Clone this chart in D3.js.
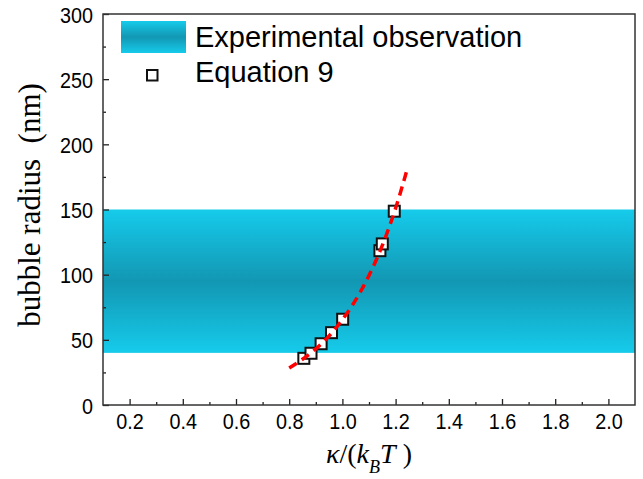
<!DOCTYPE html>
<html><head><meta charset="utf-8">
<script src="https://cdn.jsdelivr.net/npm/d3@7"></script>
<style>body{margin:0;background:#fff}</style>
</head><body>
<script>
const bandRange = [40, 150];
const eqX = [0.855, 0.882, 0.920, 0.959, 1.001, 1.141, 1.150, 1.195];
const eqY = [35.8, 39.7, 47.0, 55.5, 65.8, 118.4, 123.6, 148.7];
const fitX = [0.80, 0.85, 0.90, 0.95, 1.00, 1.05, 1.10, 1.15, 1.20, 1.246];
const fitY = [28.4, 35.1, 43.1, 53.0, 65.5, 80.6, 99.4, 122.4, 151.0, 182.7];
const xTicks = [0.2, 0.4, 0.6, 0.8, 1.0, 1.2, 1.4, 1.6, 1.8, 2.0];
const yTicks = [0, 50, 100, 150, 200, 250, 300];
const legendLabels = ["Experimental observation", "Equation 9"];

const W = 643, H = 479;
const L = 103, R = 635, T = 14, B = 405;
const svg = d3.select("body").append("svg").attr("width", W).attr("height", H);
const x = d3.scaleLinear().domain([0.1, 2.1]).range([L, R]);
const y = d3.scaleLinear().domain([0, 300]).range([B, T]);

const defs = svg.append("defs");
const g = defs.append("linearGradient").attr("id", "band").attr("x1", 0).attr("y1", 0).attr("x2", 0).attr("y2", 1);
g.append("stop").attr("offset", "0%").attr("stop-color", "#16cbeb");
g.append("stop").attr("offset", "50%").attr("stop-color", "#1297b3");
g.append("stop").attr("offset", "100%").attr("stop-color", "#16cbeb");

// band
svg.append("rect").attr("x", L).attr("width", R - L)
  .attr("y", y(bandRange[1])).attr("height", y(bandRange[0]) - y(bandRange[1]))
  .attr("fill", "url(#band)");

const font = "'Liberation Sans', Arial, sans-serif";
const serif = "'Liberation Serif', 'Times New Roman', serif";

// axes
const xAxis = svg.append("g").attr("transform", `translate(0,${B})`)
  .call(d3.axisBottom(x).tickValues(xTicks).tickFormat(d3.format(".1f")).tickSizeInner(-6).tickSizeOuter(0).tickPadding(0));
const xMinor = svg.append("g").attr("transform", `translate(0,${B})`)
  .call(d3.axisBottom(x).tickValues(d3.range(0.3, 2.1, 0.2)).tickFormat("").tickSizeInner(-3).tickSizeOuter(0));
const yAxis = svg.append("g").attr("transform", `translate(${L},0)`)
  .call(d3.axisLeft(y).tickValues(yTicks).tickSizeInner(-6).tickSizeOuter(0).tickPadding(0));
const yMinor = svg.append("g").attr("transform", `translate(${L},0)`)
  .call(d3.axisLeft(y).tickValues(d3.range(25, 300, 50)).tickFormat("").tickSizeInner(-3).tickSizeOuter(0));
[xAxis, xMinor, yAxis, yMinor].forEach(a => {
  a.select(".domain").remove();
  a.selectAll("line").attr("stroke", "#222").attr("stroke-width", 1.3);
  a.selectAll("text").attr("font-family", font).attr("font-size", 22).attr("fill", "#000");
});
xAxis.selectAll("text").attr("y", null).attr("dy", null)
  .attr("transform", "translate(0,24) scale(0.9,1)");
yAxis.selectAll("text").attr("x", null).attr("dy", null)
  .attr("transform", "translate(-10,8) scale(0.9,1)");

// frame
svg.append("rect").attr("x", L).attr("y", T).attr("width", R - L).attr("height", B - T)
  .attr("fill", "none").attr("stroke", "#333").attr("stroke-width", 1.5);

// markers
svg.append("g").selectAll("rect").data(eqX.map((d, i) => [d, eqY[i]])).join("rect")
  .attr("x", d => x(d[0]) - 5.5).attr("y", d => y(d[1]) - 5.5)
  .attr("width", 11).attr("height", 11)
  .attr("fill", "#fff").attr("stroke", "#111").attr("stroke-width", 2);

// fit line
const line = d3.line().x(d => x(d[0])).y(d => y(d[1])).curve(d3.curveMonotoneX);
svg.append("path").datum(fitX.map((d, i) => [d, fitY[i]]))
  .attr("d", line).attr("fill", "none").attr("stroke", "#ff0000")
  .attr("stroke-width", 3.5).attr("stroke-dasharray", "9,6");

// legend
svg.append("rect").attr("x", 121).attr("y", 21).attr("width", 65).attr("height", 32).attr("fill", "url(#band)");
svg.append("rect").attr("x", 147).attr("y", 70).attr("width", 10.5).attr("height", 10.5)
  .attr("fill", "#fff").attr("stroke", "#111").attr("stroke-width", 2);
svg.append("text").attr("x", 195).attr("y", 47).text(legendLabels[0])
  .attr("font-family", font).attr("font-size", 29);
svg.append("text").attr("x", 195).attr("y", 82).text(legendLabels[1])
  .attr("font-family", font).attr("font-size", 29);

// axis titles
svg.append("text").attr("transform", `translate(40,205) rotate(-90)`)
  .attr("text-anchor", "middle").attr("font-family", serif)
  .attr("font-size", 31).attr("xml:space", "preserve").text("bubble radius  (nm)");
const xt = svg.append("text").attr("x", 369).attr("y", 463).attr("text-anchor", "middle")
  .attr("font-family", serif).attr("font-size", 28).attr("xml:space", "preserve");
xt.append("tspan").attr("font-style", "italic").text("κ");
xt.append("tspan").text("/(");
xt.append("tspan").attr("font-style", "italic").text("k");
xt.append("tspan").attr("font-style", "italic").attr("font-size", 18).attr("dy", 10).text("B");
xt.append("tspan").attr("font-style", "italic").attr("dy", -10).text("T");
xt.append("tspan").text(" )");
</script>
</body></html>
